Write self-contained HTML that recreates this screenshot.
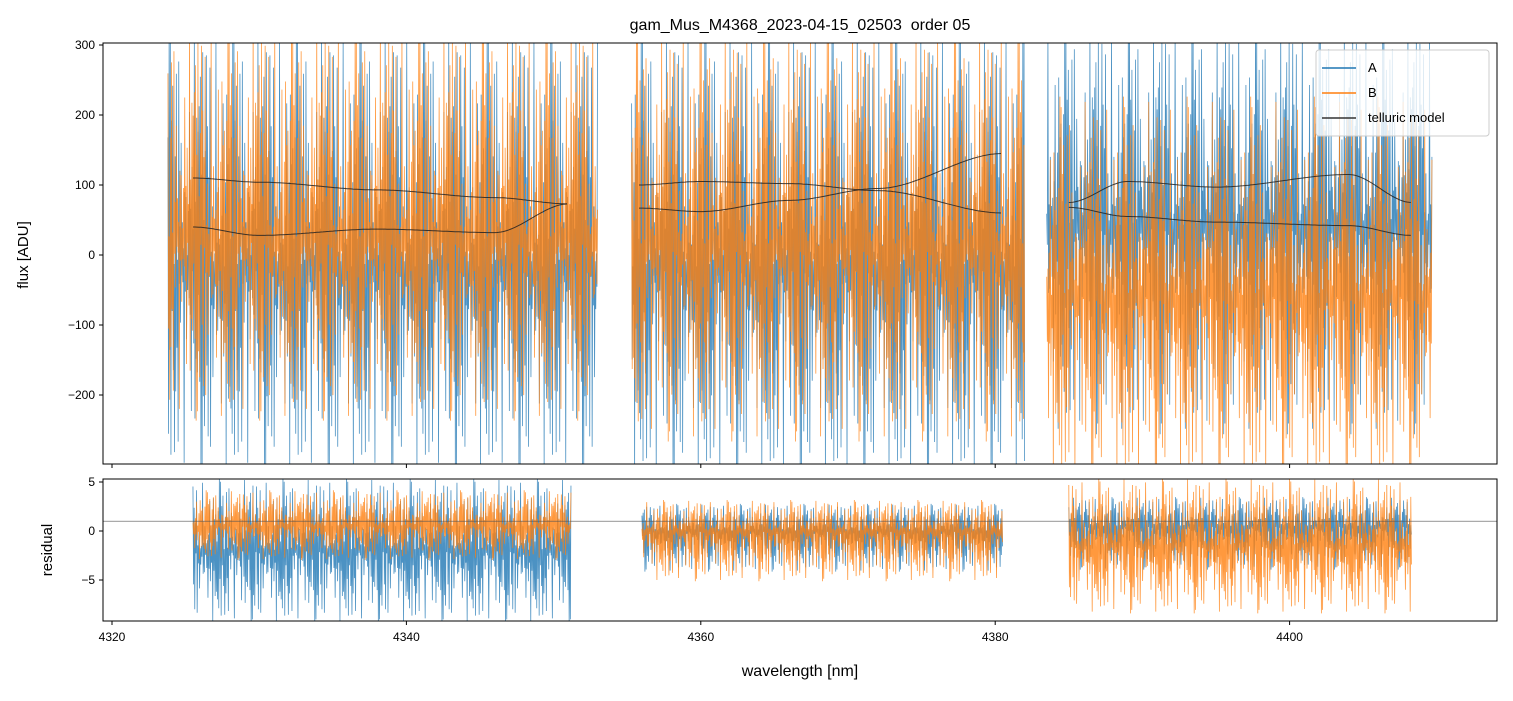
<!DOCTYPE html>
<html><head><meta charset="utf-8"><style>
body{margin:0;background:#fff;}
svg text{font-family:"Liberation Sans","DejaVu Sans",sans-serif;fill:#000;}
</style></head><body>
<svg id="c" width="1513" height="696" xmlns="http://www.w3.org/2000/svg">
<defs>
<clipPath id="clipTop"><rect x="103" y="43" width="1394" height="421"/></clipPath>
<clipPath id="clipBot"><rect x="103" y="479" width="1394" height="142"/></clipPath>
</defs>
<rect x="0" y="0" width="1513" height="696" fill="#fff"/>
<text x="800" y="30" font-size="16" text-anchor="middle" style="white-space:pre">gam_Mus_M4368_2023-04-15_02503  order 05</text>
<g id="topPanel" clip-path="url(#clipTop)"></g>
<g id="botPanel" clip-path="url(#clipBot)"></g>
<rect x="103" y="43" width="1394" height="421" fill="none" stroke="#000" stroke-width="1"/>
<rect x="103" y="479" width="1394" height="142" fill="none" stroke="#000" stroke-width="1"/>
<g id="axes"></g>
<g>
<rect x="1316" y="50" width="173" height="86" rx="3" fill="#fff" fill-opacity="0.8" stroke="#ccc"/>
<line x1="1322" y1="68" x2="1356" y2="68" stroke="#1f77b4" stroke-width="1.5"/>
<text x="1368" y="72" font-size="13">A</text>
<line x1="1322" y1="93" x2="1356" y2="93" stroke="#ff7f0e" stroke-width="1.5"/>
<text x="1368" y="97" font-size="13">B</text>
<line x1="1322" y1="118" x2="1356" y2="118" stroke="#333" stroke-width="1.5"/>
<text x="1368" y="122" font-size="13">telluric model</text>
</g>
<text transform="translate(28,255) rotate(-90)" font-size="15" text-anchor="middle">flux [ADU]</text>
<text transform="translate(52,550) rotate(-90)" font-size="15" text-anchor="middle">residual</text>
<text x="800" y="676" font-size="16" text-anchor="middle">wavelength [nm]</text>
</svg>
<script>
// ---- data ----
const xTicks=[4320,4340,4360,4380,4400];
const fluxTicks=[300,200,100,0,-100,-200];
const residTicks=[5,0,-5];
const segStart=[4323.8,4355.3,4383.5];
const segEnd=[4353.0,4382.0,4409.7];
const fluxACtr=[-20,-20,40];
const fluxAHi=[330,330,340];
const fluxALo=[-320,-330,-260];
const fluxBCtr=[20,10,-60];
const fluxBHi=[340,330,230];
const fluxBLo=[-240,-270,-330];
const resStart=[4325.5,4356.0,4385.0];
const resEnd=[4351.2,4380.5,4408.3];
const resACtr=[-2,0,0.5];
const resAHi=[5.5,2.8,3.5];
const resALo=[-9.5,-4.2,-4.0];
const resBCtr=[0.5,0,-1.5];
const resBHi=[4.2,3.2,5.5];
const resBLo=[-3.0,-5.2,-8.5];
const residRef=1;
const tellWl=[[4325.5,4330,4338,4346,4351],[4355.8,4360,4366,4372,4380.5],[4385,4389,4395,4404,4408.3]];
const tell1=[[110,104,93,82,73],[100,105,102,92,60],[75,105,97,115,75]];
const tell2=[[40,28,37,32,73],[67,62,78,95,145],[68,55,47,42,28]];
// ---- axes ----
const X=w=>112+(w-4320)*14.72;
const Yt=v=>255-v*0.7;
const Yb=v=>531-v*9.8;
const NS='http://www.w3.org/2000/svg';
function mk(tag,attrs,parent){const e=document.createElementNS(NS,tag);for(const k in attrs)e.setAttribute(k,attrs[k]);parent.appendChild(e);return e;}
const topG=document.getElementById('topPanel'),botG=document.getElementById('botPanel'),axesG=document.getElementById('axes');
const pat=[0.62,0.18,0.91,0.33,0.05,0.74,0.47,0.97,0.26,0.58,0.12,0.83,0.39,0.68,0.22,0.9,0.51,0.08,0.77,0.35,0.64,0.15,0.99,0.43,0.29,0.71,0.55,0.03,0.86,0.37,0.6,0.2,0.94,0.48,0.11,0.8,0.31,0.66,0.25,0.88,0.52,0.07,0.73,0.41,0.95,0.17,0.57,0.34,0.84,0.45,0.13,0.69,0.28];
function noise(s,e,c,hi,lo,Y,color,parent,name,k){
  let pts=[];let i=0;
  for(let px=X(s);px<=X(e);px+=0.6){
    const p=pat[(i*11+k*5)%pat.length];const q=Math.pow(p,1.3);const v=(i%2===0)?c+(hi-c)*q:c+(lo-c)*q;
    pts.push(px.toFixed(2)+','+Y(v).toFixed(1));i++;
  }
  const el=mk('polyline',{points:pts.join(' '),fill:'none',stroke:color,'stroke-width':0.8,'stroke-opacity':0.8},parent);
  
  
}
for(let s=0;s<3;s++){
  noise(segStart[s],segEnd[s],fluxACtr[s],fluxAHi[s],fluxALo[s],Yt,'#1f77b4',topG,'series-a-flux',s);
  noise(resStart[s],resEnd[s],resACtr[s],resAHi[s],resALo[s],Yb,'#1f77b4',botG,'series-a-residual',s+3);
}
for(let s=0;s<3;s++){
  noise(segStart[s],segEnd[s],fluxBCtr[s],fluxBHi[s],fluxBLo[s],Yt,'#ff7f0e',topG,'series-b-flux',s+7);
  noise(resStart[s],resEnd[s],resBCtr[s],resBHi[s],resBLo[s],Yb,'#ff7f0e',botG,'series-b-residual',s+9);
}
function smooth(ws,vs){let d='';for(let px=X(ws[0]);px<=X(ws[ws.length-1])+0.1;px+=2){const w=4320+(px-112)/14.72;let j=0;while(j<ws.length-2&&w>ws[j+1])j++;const t=Math.min(1,Math.max(0,(w-ws[j])/(ws[j+1]-ws[j])));const tt=t*t*(3-2*t);const v=vs[j]+(vs[j+1]-vs[j])*tt;d+=(d?'L':'M')+px.toFixed(1)+','+Yt(v).toFixed(1);}return d;}
for(let s=0;s<3;s++){
  const a=mk('path',{d:smooth(tellWl[s],tell1[s]),fill:'none',stroke:'#222','stroke-width':1,'stroke-opacity':0.85},topG);
  
  
  const b=mk('path',{d:smooth(tellWl[s],tell2[s]),fill:'none',stroke:'#222','stroke-width':1,'stroke-opacity':0.85},topG);
  
  
}
const rl=mk('line',{x1:103,x2:1497,y1:Yb(residRef),y2:Yb(residRef),stroke:'#555','stroke-width':0.7},botG);


xTicks.forEach(t=>{
  const x=X(t);
  const a=mk('line',{x1:x,x2:x,y1:464,y2:468,stroke:'#000'},axesG);
  
  
  const b=mk('line',{x1:x,x2:x,y1:621,y2:625,stroke:'#000'},axesG);
  
  
  const l=mk('text',{x:x,y:641,'font-size':12,'text-anchor':'middle'},axesG);l.textContent=t;
  
  
});
fluxTicks.forEach(t=>{
  const y=Yt(t);
  const a=mk('line',{x1:99,x2:103,y1:y,y2:y,stroke:'#000'},axesG);
  
  
  const l=mk('text',{x:95,y:y+4,'font-size':12,'text-anchor':'end'},axesG);l.textContent=String(t).replace('-','\u2212');
  
  
});
residTicks.forEach(t=>{
  const y=Yb(t);
  const a=mk('line',{x1:99,x2:103,y1:y,y2:y,stroke:'#000'},axesG);
  
  
  const l=mk('text',{x:95,y:y+4,'font-size':12,'text-anchor':'end'},axesG);l.textContent=String(t).replace('-','\u2212');
  
  
});
</script>
</body></html>
